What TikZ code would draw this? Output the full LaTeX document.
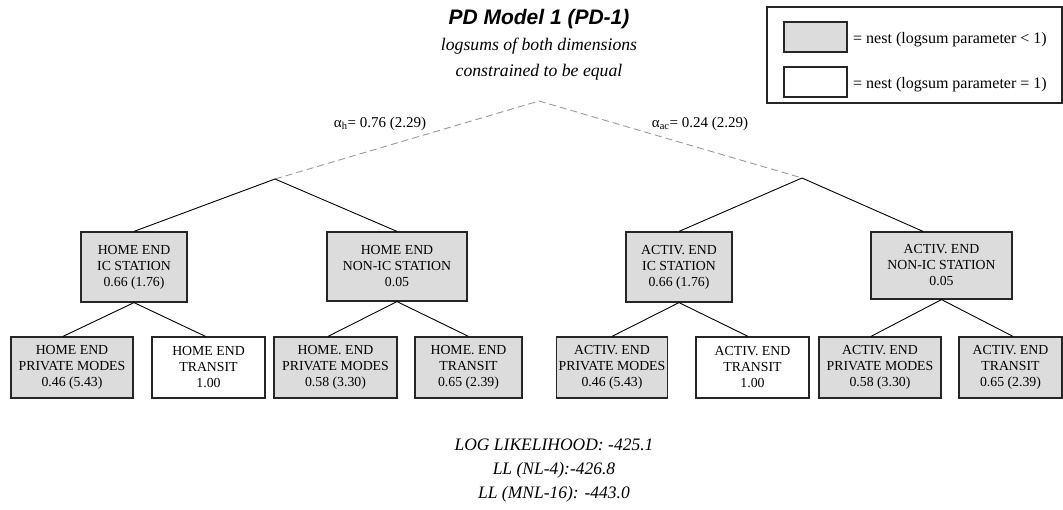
\documentclass[tikz,border=0pt]{standalone}
\usepackage{fontspec}
\setmainfont{Liberation Serif}
\newfontfamily\headfont{Liberation Sans}
\usetikzlibrary{calc}
\definecolor{nestgray}{HTML}{DCDCDC}
\definecolor{linkgray}{HTML}{999999}
\newcommand\nestfont{\fontsize{13.8}{16}\selectfont}
\newcommand\keyfont{\fontsize{16}{18}\selectfont}
\newcommand\coeffont{\fontsize{15}{18}\selectfont}
\newcommand\notefont{\fontsize{17.5}{24}\selectfont\itshape}
\begin{document}
\begin{tikzpicture}[x=1pt,y=-1pt,
  nestbox/.style={draw=black!85, line width=1.2pt, fill=nestgray, align=center,
    inner sep=0pt, font=\nestfont},
  leafbox/.style={nestbox, fill=white},
  link/.style={draw=black, line width=0.9pt},
  toplink/.style={draw=linkgray, line width=0.9pt, dash pattern=on 7pt off 4pt},
  coef/.style={font=\coeffont, inner sep=0pt}]
\useasboundingbox (0,0) rectangle (1063,510);

% heading
\node[font=\headfont\fontsize{21}{24}\selectfont\bfseries\itshape] (title) at (539,19) {PD Model 1 (PD-1)};
\node[font=\fontsize{17.7}{26}\selectfont\itshape, align=center] (subtitle) at (539,59) {logsums of both dimensions\\constrained to be equal};

% legend
\node[draw=black!85, line width=1.2pt, minimum width=295pt, minimum height=96pt, inner sep=0pt] (key) at (914.5,55) {};
\node[nestbox, minimum width=63pt, minimum height=30pt] (keyg) at (815.5,37) {};
\node[leafbox, minimum width=63pt, minimum height=30pt] (keyw) at (815.5,82) {};
\node[font=\keyfont, anchor=west, inner sep=0pt] (keygt) at (853,40) {= nest (logsum parameter < 1)};
\node[font=\keyfont, anchor=west, inner sep=0pt] (keywt) at (853,85) {= nest (logsum parameter = 1)};

% branching points
\coordinate (root) at (539,101);
\coordinate (hb) at (275,179);
\coordinate (ab) at (802,178);

% station-level nests
\node[nestbox, minimum width=106pt, minimum height=70pt] (ic)   at (134,267)   {HOME END\\IC STATION\\0.66 (1.76)};
\node[nestbox, minimum width=140pt, minimum height=69pt] (nic)  at (397,266.5) {HOME END\\NON-IC STATION\\0.05};
\node[nestbox, minimum width=106pt, minimum height=70pt] (aic)  at (679,267)   {ACTIV. END\\IC STATION\\0.66 (1.76)};
\node[nestbox, minimum width=141pt, minimum height=67pt] (anic) at (941.5,265.5) {ACTIV. END\\NON-IC STATION\\0.05};

% mode-level nests
\node[nestbox, minimum width=122pt, minimum height=61pt] (pm1)  at (72,367.5)    {HOME END\\PRIVATE MODES\\0.46 (5.43)};
\node[leafbox, minimum width=113pt, minimum height=61pt] (tr1)  at (208.5,367.5) {HOME END\\TRANSIT\\1.00};
\node[nestbox, minimum width=123pt, minimum height=61pt] (pm2)  at (335.5,367.5) {HOME. END\\PRIVATE MODES\\0.58 (3.30)};
\node[nestbox, minimum width=107pt, minimum height=61pt] (tr2)  at (468.5,367.5) {HOME. END\\TRANSIT\\0.65 (2.39)};
\node[nestbox, minimum width=111pt, minimum height=61pt] (apm1) at (612,367.5)   {ACTIV. END\\PRIVATE MODES\\0.46 (5.43)};
\node[leafbox, minimum width=113pt, minimum height=61pt] (atr1) at (752.5,367.5) {ACTIV. END\\TRANSIT\\1.00};
\node[nestbox, minimum width=122pt, minimum height=61pt] (apm2) at (880,367.5)   {ACTIV. END\\PRIVATE MODES\\0.58 (3.30)};
\node[nestbox, minimum width=103pt, minimum height=61pt] (atr2) at (1010.5,367.5) {ACTIV. END\\TRANSIT\\0.65 (2.39)};

% upper (dimension) links
\draw[toplink] (hb) -- (root) -- (ab);
\node[coef] (ah)  at (380,124) {α\textsubscript{h}= 0.76 (2.29)};
\node[coef] (aac) at (700,124) {α\textsubscript{ac}= 0.24 (2.29)};

% station links
\draw[link] (ic.north) -- (hb) -- (nic.north);
\draw[link] (aic.north) -- (ab) -- ($(anic.north)+(-18.5,0)$);

% mode links
\draw[link] ($(pm1.north)+(-9,0)$) -- (ic.south) -- ($(tr1.north)+(-3,0)$);
\draw[link] ($(pm2.north)+(-7.5,0)$) -- (nic.south) -- (tr2.north);
\draw[link] (apm1.north) -- (aic.south) -- ($(atr1.north)+(-4.5,0)$);
\draw[link] ($(apm2.north)+(-9,0)$) -- (anic.south) -- ($(atr2.north)+(2.5,0)$);

% fit statistics
\node[font=\notefont, align=center] (ll) at (554,471) {LOG LIKELIHOOD: -425.1\\LL (NL-4):-426.8\\LL (MNL-16): -443.0};
\end{tikzpicture}
\end{document}
